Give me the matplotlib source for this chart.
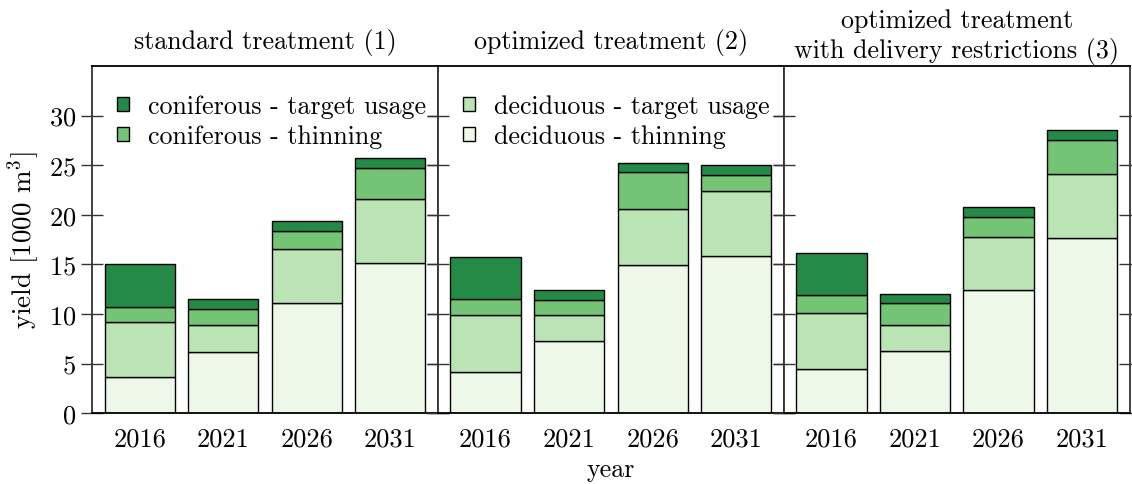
import matplotlib
matplotlib.use("Agg")
import matplotlib.pyplot as plt
import numpy as np

plt.rcParams['font.family'] = 'cmr10'
plt.rcParams['mathtext.fontset'] = 'cm'
plt.rcParams['axes.formatter.use_mathtext'] = True
plt.rcParams['font.size'] = 18.7

years = ['2016', '2021', '2026', '2031']
titles = ['standard treatment (1)',
          'optimized treatment (2)',
          'optimized treatment\nwith delivery restrictions (3)']
title_pads = [13, 13, 6.5]

# stack order bottom -> top
series = ['deciduous - thinning', 'deciduous - target usage',
          'coniferous - thinning', 'coniferous - target usage']
colors = ['#edf8e9', '#bae4b3', '#74c476', '#238b45']

# values per panel, per series (1000 m^3)
dec_thin = [[3.6, 6.17, 11.14, 15.17],
            [4.19, 7.25, 14.93, 15.87],
            [4.43, 6.28, 12.38, 17.62]]
dec_target = [[5.64, 2.69, 5.37, 6.44],
              [5.68, 2.68, 5.67, 6.48],
              [5.70, 2.65, 5.41, 6.44]]
con_thin = [[1.51, 1.61, 1.85, 3.12],
            [1.67, 1.51, 3.70, 1.68],
            [1.75, 2.14, 2.01, 3.52]]
con_target = [[4.26, 1.01, 0.97, 1.01],
              [4.23, 1.01, 0.93, 0.97],
              [4.26, 0.91, 0.97, 1.01]]

fig, axes = plt.subplots(1, 3, figsize=(11.32, 4.85), dpi=100, sharey=True)
fig.subplots_adjust(left=0.0813, right=0.998, top=0.862, bottom=0.146, wspace=0)

x = np.arange(len(years))
handles = {}
for p, ax in enumerate(axes):
    stacks = [dec_thin[p], dec_target[p], con_thin[p], con_target[p]]
    bottom = np.zeros(len(years))
    for name, vals, col in zip(series, stacks, colors):
        b = ax.bar(x, vals, 0.84, bottom=bottom, color=col,
                   edgecolor='black', linewidth=1.0, label=name)
        handles[name] = b
        bottom += np.array(vals)
    ax.set_xlim(-0.57, 3.57)
    ax.set_ylim(0, 35)
    ax.set_xticks(x)
    ax.set_xticklabels(years)
    ax.tick_params(axis='x', length=0, pad=10, labelsize=19)
    ax.tick_params(axis='y', direction='inout', length=16, width=1.0,
                   left=True, right=True, color='#333333', labelsize=19)
    ax.set_yticks([0, 5, 10, 15, 20, 25, 30])
    ax.set_title(titles[p], pad=title_pads[p], linespacing=1.25, fontsize=18.7)
    for s in ['left', 'right']:
        ax.spines[s].set_color('#333333')
        ax.spines[s].set_linewidth(1.3)
    for s in ['top', 'bottom']:
        ax.spines[s].set_linewidth(1.3)

axes[0].set_ylabel('yield [1000 m$^3$]', labelpad=5, fontsize=19.5)
axes[1].set_xlabel('year', labelpad=5)

leg_kw = dict(loc='upper left', frameon=False, handlelength=0.45,
              handleheight=0.45, handletextpad=0.75, labelspacing=0.25,
              borderaxespad=0, borderpad=0)
axes[0].legend([handles['coniferous - target usage'], handles['coniferous - thinning']],
               ['coniferous - target usage', 'coniferous - thinning'],
               bbox_to_anchor=(0.072, 0.918), **leg_kw)
axes[1].legend([handles['deciduous - target usage'], handles['deciduous - thinning']],
               ['deciduous - target usage', 'deciduous - thinning'],
               bbox_to_anchor=(0.072, 0.918), **leg_kw)

fig.savefig('out.png', dpi=100)
